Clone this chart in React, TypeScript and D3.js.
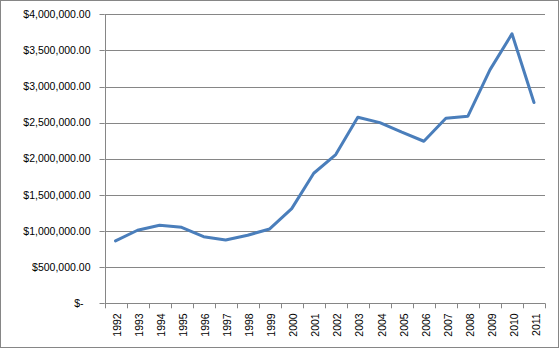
import React, { useEffect, useRef } from 'react';
import * as d3 from 'd3';

const years = [
  '1992', '1993', '1994', '1995', '1996', '1997', '1998', '1999', '2000', '2001',
  '2002', '2003', '2004', '2005', '2006', '2007', '2008', '2009', '2010', '2011',
];
const amounts = [
  863000, 1011000, 1080000, 1052000, 922000, 877000, 942000, 1029000, 1310000, 1800000,
  2058000, 2576000, 2501000, 2368000, 2243000, 2562000, 2590000, 3231000, 3730000, 2779000,
];
const yTicks = [0, 500000, 1000000, 1500000, 2000000, 2500000, 3000000, 3500000, 4000000];

const App: React.FC = () => {
  const svgRef = useRef<SVGSVGElement>(null);

  useEffect(() => {
    if (!svgRef.current) return;
    const svg = d3.select(svgRef.current);
    svg.selectAll('*').remove();

    const width = 560;
    const height = 349;
    const left = 104.5;
    const right = 545;
    const top = 14.3;
    const bottom = 303.3;
    const grey = '#868686';
    const font = '"Liberation Sans", Arial, sans-serif';

    // chart border
    svg.append('rect')
      .attr('x', 0.5).attr('y', 0.5)
      .attr('width', width - 2).attr('height', height - 2)
      .attr('fill', '#fff')
      .attr('stroke', grey);

    const x = d3.scaleBand<string>().domain(years).range([left, right]);
    const y = d3.scaleLinear().domain([0, 4000000]).range([bottom, top]);

    const money = d3.format('$,.2f');

    // gridlines
    svg.append('g')
      .selectAll('line')
      .data(yTicks.filter(d => d > 0))
      .enter().append('line')
      .attr('x1', left).attr('x2', right)
      .attr('y1', d => Math.round(y(d)) + 0.5)
      .attr('y2', d => Math.round(y(d)) + 0.5)
      .attr('stroke', grey);

    // y axis
    const ya = svg.append('g');
    ya.append('line')
      .attr('x1', Math.round(left) + 0.5).attr('x2', Math.round(left) + 0.5)
      .attr('y1', top).attr('y2', bottom)
      .attr('stroke', grey);
    ya.selectAll('line.tick')
      .data(yTicks)
      .enter().append('line')
      .attr('class', 'tick')
      .attr('x1', left - 5).attr('x2', left)
      .attr('y1', d => Math.round(y(d)) + 0.5)
      .attr('y2', d => Math.round(y(d)) + 0.5)
      .attr('stroke', grey);
    ya.selectAll('text')
      .data(yTicks)
      .enter().append('text')
      .attr('x', d => (d === 0 ? 83.5 : 90.5))
      .attr('y', d => y(d))
      .attr('dy', '0.35em')
      .attr('text-anchor', 'end')
      .style('font-family', font)
      .style('font-size', '10.5px')
      .style('fill', '#000')
      .text(d => (d === 0 ? '$-' : money(d)));

    // x axis
    const xa = svg.append('g');
    xa.append('line')
      .attr('x1', left).attr('x2', right)
      .attr('y1', Math.round(bottom) + 0.5).attr('y2', Math.round(bottom) + 0.5)
      .attr('stroke', grey);
    const edges = years.map(d => x(d) as number).concat([right]);
    xa.selectAll('line.tick')
      .data(edges)
      .enter().append('line')
      .attr('class', 'tick')
      .attr('x1', d => Math.round(d) + 0.5).attr('x2', d => Math.round(d) + 0.5)
      .attr('y1', bottom).attr('y2', bottom + 5)
      .attr('stroke', grey);
    xa.selectAll('text')
      .data(years)
      .enter().append('text')
      .attr('transform', d => `translate(${(x(d) as number) + x.bandwidth() / 2 + 2},${bottom + 10}) rotate(-90)`)
      .attr('dy', '0.35em')
      .attr('text-anchor', 'end')
      .style('font-family', font)
      .style('font-size', '10.5px')
      .style('fill', '#000')
      .text(d => d);

    // series line
    const line = d3.line<number>()
      .x((_, i) => (x(years[i]) as number) + x.bandwidth() / 2)
      .y(d => y(d));

    svg.append('path')
      .datum(amounts)
      .attr('d', line)
      .attr('fill', 'none')
      .attr('stroke', '#4a7ebb')
      .attr('stroke-width', 3)
      .attr('stroke-linejoin', 'round')
      .attr('stroke-linecap', 'round');
  }, []);

  return (
    <svg
      ref={svgRef}
      width={560}
      height={349}
      style={{ position: 'absolute', left: 0, top: 0, display: 'block' }}
    />
  );
};

export default App;
